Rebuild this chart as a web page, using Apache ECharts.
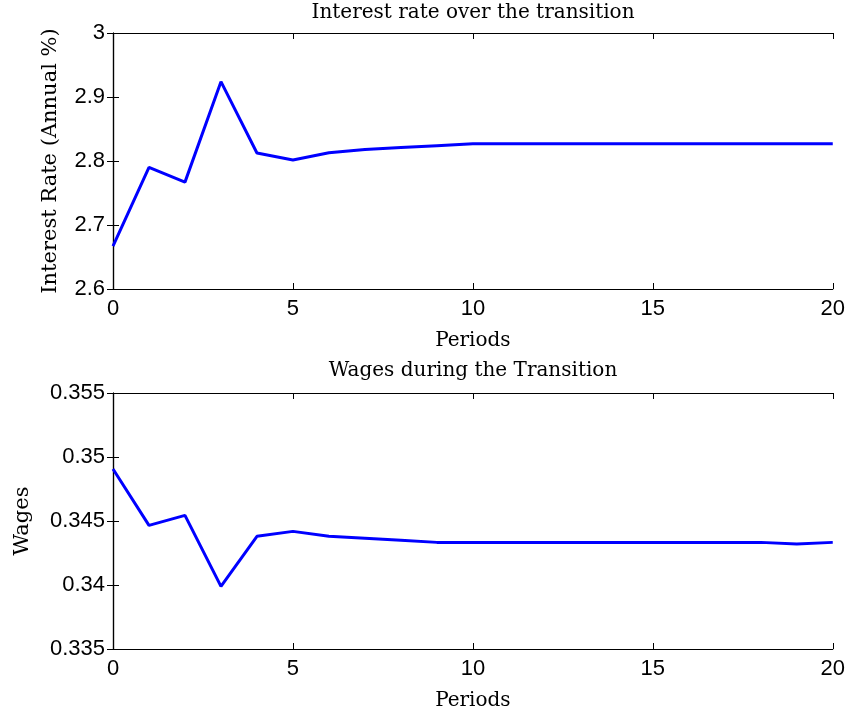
<!DOCTYPE html>
<html><head><meta charset="utf-8">
<script src="https://cdn.jsdelivr.net/npm/echarts@6/dist/echarts.min.js"></script>
<style>html,body{margin:0;padding:0;background:#fff}#c{width:848px;height:716px}</style>
</head><body><div id="c"></div>
<script>
const periods = [0,1,2,3,4,5,6,7,8,9,10,11,12,13,14,15,16,17,18,19,20];
const interestRate = [2.667,2.790,2.767,2.924,2.8125,2.8016,2.813,2.818,2.821,2.824,2.827,2.827,2.827,2.827,2.827,2.827,2.827,2.827,2.827,2.827,2.827];
const wages = [0.34906,0.34466,0.34544,0.33989,0.3438,0.34419,0.3438,0.34365,0.3435,0.34333,0.34333,0.34333,0.34333,0.34333,0.34333,0.34333,0.34333,0.34333,0.34333,0.3432,0.34333];
const topTitle = "Interest rate over the transition";
const bottomTitle = "Wages during the Transition";

const serif = "'DejaVu Serif', 'Liberation Serif', serif";
const sans = "'Liberation Sans', Arial, sans-serif";
const axisLine = {show:true, lineStyle:{color:'#000', width:1.2}};
const tickIn = {show:true, inside:true, length:6, lineStyle:{color:'#000'}};

function xAx(grid, pos, labels){
  return {type:'value', gridIndex:grid, position:pos, min:0, max:20, interval:5,
    axisLine:axisLine, axisTick:tickIn, splitLine:{show:false},
    axisLabel:{show:labels, color:'#000', fontFamily:sans, fontSize:22, margin:9},
    name: labels ? 'Periods' : '', nameLocation:'middle', nameGap:42,
    nameTextStyle:{fontFamily:serif, fontSize:20, color:'#000'}};
}
function yAx(grid, pos, labels, min, max, interval, name, gap){
  return {type:'value', gridIndex:grid, position:pos, min:min, max:max, interval:interval,
    axisLine:axisLine, axisTick:tickIn, splitLine:{show:false},
    axisLabel:{show:labels, color:'#000', fontFamily:sans, fontSize:22, margin:8},
    name: labels ? name : '', nameLocation:'middle', nameGap:gap,
    nameTextStyle:{fontFamily:serif, fontSize:21, color:'#000'}};
}

const chart = echarts.init(document.getElementById('c'));
chart.setOption({
  animation:false,
  backgroundColor:'#fff',
  title:[
    {text:topTitle, top:3, left:473, textAlign:'center', padding:0, textStyle:{fontFamily:serif, fontSize:20, fontWeight:'normal', color:'#000'}},
    {text:bottomTitle, top:361, left:473, textAlign:'center', padding:0, textStyle:{fontFamily:serif, fontSize:20, fontWeight:'normal', color:'#000'}}
  ],
  grid:[
    {left:113, top:33, width:720, height:256},
    {left:113, top:393, width:720, height:256}
  ],
  xAxis:[xAx(0,'bottom',true), xAx(0,'top',false), xAx(1,'bottom',true), xAx(1,'top',false)],
  yAxis:[
    yAx(0,'left',true,2.6,3,0.1,'Interest Rate (Annual %)',52),
    yAx(0,'right',false,2.6,3,0.1,'',0),
    yAx(1,'left',true,0.335,0.355,0.005,'Wages',80),
    yAx(1,'right',false,0.335,0.355,0.005,'',0)
  ],
  series:[
    {type:'line', xAxisIndex:0, yAxisIndex:0, data:periods.map((p,i)=>[p,interestRate[i]]), showSymbol:false, lineStyle:{color:'#0000ff', width:3}},
    {type:'line', xAxisIndex:2, yAxisIndex:2, data:periods.map((p,i)=>[p,wages[i]]), showSymbol:false, lineStyle:{color:'#0000ff', width:3}}
  ]
});
</script></body></html>
